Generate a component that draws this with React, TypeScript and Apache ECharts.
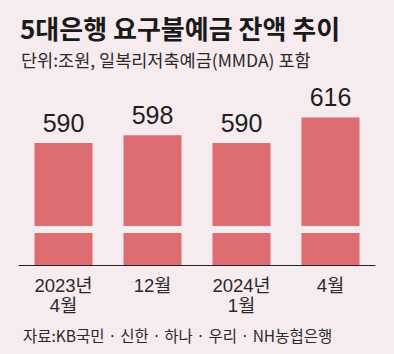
import React, { useEffect, useRef } from "react";
import * as echarts from "echarts";

const categories = ["2023년\n4월", "12월", "2024년\n1월", "4월"];
const values = [590, 598, 590, 616];
const titleText = "5대은행 요구불예금 잔액 추이";
const subtitleText = "단위:조원, 일복리저축예금(MMDA) 포함";
const sourceText = "자료:KB국민 · 신한 · 하나 · 우리 · NH농협은행";

const BG = "#f6ebef";
const BAR = "#de6d71";
const LATIN = "'Liberation Sans', 'Noto Sans CJK KR', sans-serif";
const CJK = "'Noto Sans CJK KR', sans-serif";

export default function App() {
  const ref = useRef<HTMLDivElement>(null);
  useEffect(() => {
    if (!ref.current) return;
    const chart = echarts.init(ref.current, undefined, { renderer: "svg" });
    chart.setOption({
      animation: false,
      backgroundColor: BG,
      title: [
        {
          text: titleText,
          left: 15,
          top: 9,
          textStyle: { fontFamily: CJK, fontSize: 26, fontWeight: "bold", color: "#1a1a1a" },
        },
        {
          text: subtitleText,
          left: 16,
          top: 46,
          textStyle: { fontFamily: CJK, fontSize: 17.5, fontWeight: "normal", color: "#2a2a2a" },
        },
        {
          text: sourceText,
          left: 18,
          top: 322,
          textStyle: { fontFamily: CJK, fontSize: 15.5, fontWeight: "normal", color: "#2a2a2a" },
        },
      ],
      grid: { left: 19, right: 19, top: 90, bottom: 89 },
      xAxis: {
        type: "category",
        data: categories,
        axisLine: { show: true, lineStyle: { color: "#222", width: 1 } },
        axisTick: { show: false },
        axisLabel: {
          fontFamily: LATIN,
          fontSize: 18.5,
          lineHeight: 20,
          color: "#2a2a2a",
          margin: 10,
          interval: 0,
        },
      },
      yAxis: {
        type: "value",
        min: 466,
        max: 644,
        show: false,
        splitLine: { show: false },
      },
      series: [
        {
          type: "bar",
          data: values,
          barWidth: 58,
          itemStyle: { color: BAR },
          label: {
            show: true,
            position: "top",
            distance: 8,
            fontFamily: LATIN,
            fontSize: 25,
            color: "#1e1e1e",
          },
        },
      ],
      graphic: [
        {
          type: "rect",
          z: 100,
          shape: { x: 19, y: 226, width: 356, height: 7 },
          style: { fill: BG },
        },
      ],
    });
    return () => chart.dispose();
  }, []);
  return (
    <div
      ref={ref}
      style={{ position: "fixed", left: 0, top: 0, width: 394, height: 354 }}
    />
  );
}
